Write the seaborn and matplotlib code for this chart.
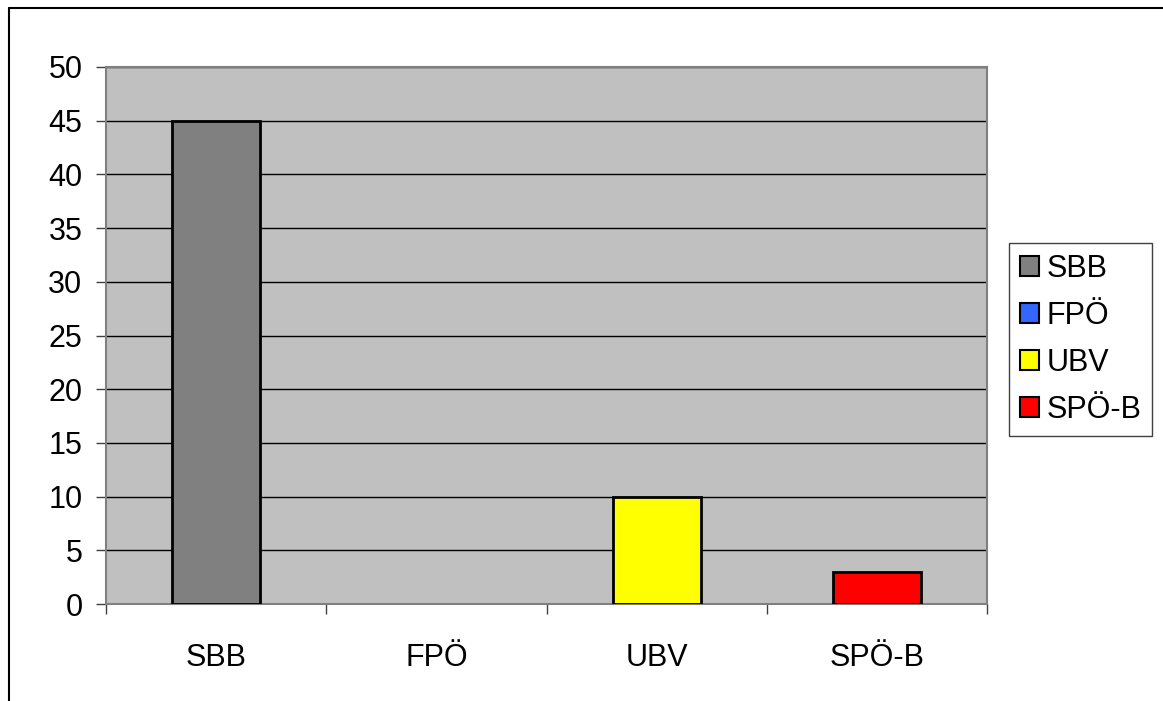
import matplotlib
matplotlib.use("Agg")
import matplotlib.pyplot as plt
import seaborn as sns
import pandas as pd
from matplotlib.lines import Line2D

parties = ["SBB", "FPÖ", "UBV", "SPÖ-B"]
values = [45, 0, 10, 3]
colors = ["#808080", "#3366FF", "#FFFF00", "#FF0000"]

sns.set_style("white")
plt.rcParams["font.family"] = ["Liberation Sans", "DejaVu Sans"]
plt.rcParams["text.color"] = "black"
plt.rcParams["xtick.color"] = "black"
plt.rcParams["ytick.color"] = "black"

df = pd.DataFrame({"party": parties, "value": values})

fig = plt.figure(figsize=(11.63, 7.01), dpi=100)
ax = fig.add_axes([106 / 1163, 1 - 604 / 701, (987 - 106) / 1163, (604 - 67) / 701])
ax.set_facecolor("#C0C0C0")

sns.barplot(data=df, x="party", y="value", hue="party", order=parties,
            hue_order=parties, palette=colors, saturation=1, dodge=False, width=0.4,
            edgecolor="black", linewidth=2, ax=ax, legend=False, zorder=3)

# zero-height bar draws no outline
for p in ax.patches:
    if p.get_height() == 0:
        p.set_linewidth(0)

ax.set_ylim(0, 50)
ax.set_xlim(-0.5, 3.5)
ax.set_yticks(range(0, 51, 5))
ax.yaxis.grid(True, color="black", linewidth=1)
ax.set_axisbelow(True)
ax.set_xlabel("")
ax.set_ylabel("")

for s in ax.spines.values():
    s.set_visible(True)
    s.set_color("#808080")
    s.set_linewidth(1.5)

ax.tick_params(axis="y", which="major", direction="out", length=7, width=1,
               color="#404040", labelsize=22, pad=10, left=True)
ax.tick_params(axis="x", which="major", length=0, labelsize=22, pad=28)
ax.set_xticks([i - 0.5 for i in range(5)], minor=True)
ax.tick_params(axis="x", which="minor", direction="out", length=7, width=1,
               color="#404040", bottom=True)

handles = [plt.Rectangle((0, 0), 1, 1, facecolor=c, edgecolor="black", linewidth=1.5)
           for c in colors]
leg = fig.legend(handles, parties, loc="upper left",
                 bbox_to_anchor=(1009 / 1163, 1 - 243 / 701),
                 fontsize=22, frameon=True, fancybox=False, framealpha=1,
                 edgecolor="#404040", handlelength=0.62, handleheight=0.62,
                 handletextpad=0.25, labelspacing=0.56, borderpad=0.35,
                 borderaxespad=0)
leg.get_frame().set_linewidth(1)

# outer chart frame (top and left edges visible)
fig.add_artist(Line2D([9 / 1163, 1], [1 - 8 / 701, 1 - 8 / 701], color="black", linewidth=1.5))
fig.add_artist(Line2D([9 / 1163, 9 / 1163], [0, 1 - 8 / 701], color="black", linewidth=1.5))

fig.savefig("out.png", dpi=100)
